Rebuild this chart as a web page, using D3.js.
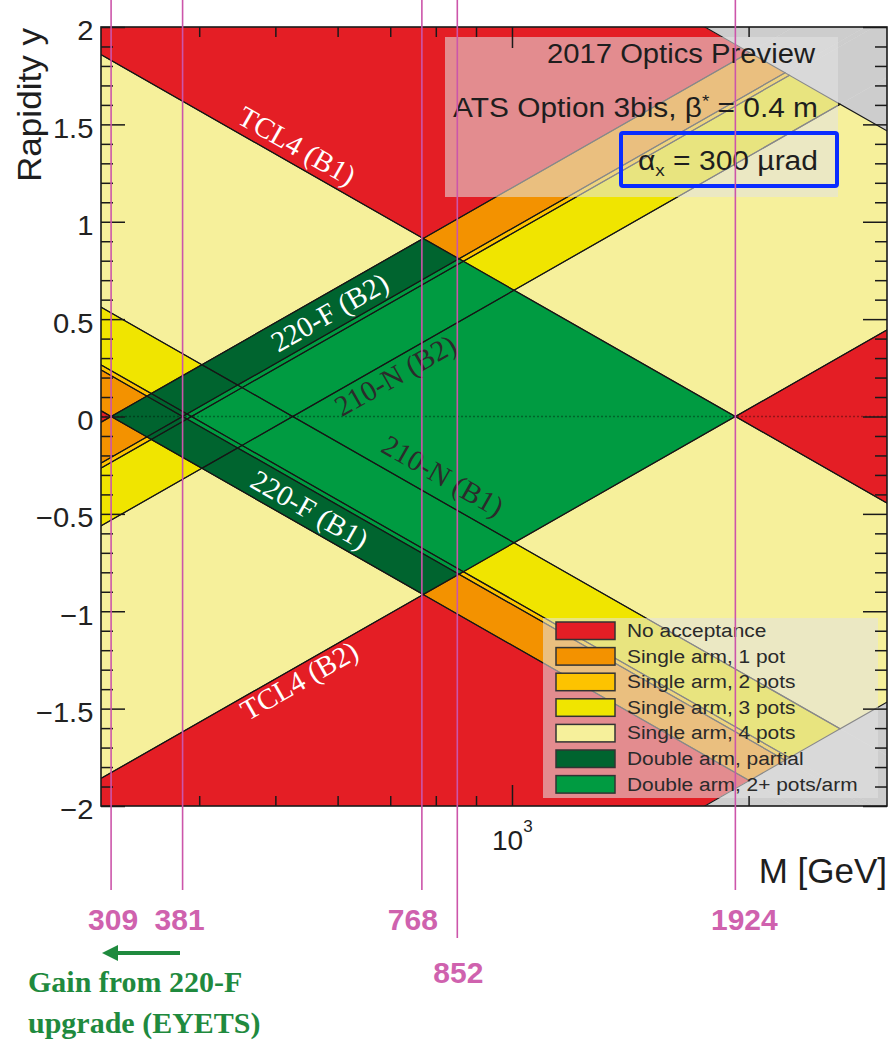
<!DOCTYPE html>
<html>
<head>
<meta charset="utf-8">
<script src="https://cdn.jsdelivr.net/npm/d3@7"></script>
<style>
  html, body { margin: 0; padding: 0; background: #fff; }
  svg { display: block; }
</style>
</head>
<body>
<svg id="chart" width="892" height="1042"></svg>
<script>
// ---- acceptance model: each edge is the mass (GeV) where the line crosses y = 0 ----
const potEdges = [309, 381, 391, 526];      // lower ξ edge of the four pots per arm
const collimatorEdge = 1924;                // TCL4 aperture (upper ξ edge)
const kinematicEdge = 13000;                // ξ = 1
const massMarkers = [309, 381, 768, 852, 1924];

const legendLabels = ["No acceptance", "Single arm, 1 pot", "Single arm, 2 pots",
  "Single arm, 3 pots", "Single arm, 4 pots", "Double arm, partial", "Double arm, 2+ pots/arm"];
const legendColors = ["#e41e25", "#f39200", "#fdc300", "#f0e500", "#f6f09b", "#00642f", "#009b41"];
const outsideColor = "#cdcdcd";

const yMajorTicks = [-2, -1.5, -1, -0.5, 0, 0.5, 1, 1.5, 2];
const yTickLabels = ["\u22122", "\u22121.5", "\u22121", "\u22120.5", "0", "0.5", "1", "1.5", "2"];
const xMinorTicks = [400, 500, 600, 700, 800, 900, 2000];
const xMajorTicks = [1000];

const lineLabels = [
  { text: "TCL4 (B1)",  arm: 1, edges: [1924],     fill: "#ffffff" },
  { text: "TCL4 (B2)",  arm: 2, edges: [1924],     fill: "#ffffff" },
  { text: "220-F (B2)", arm: 2, edges: [309, 381], fill: "#ffffff" },
  { text: "220-F (B1)", arm: 1, edges: [309, 381], fill: "#ffffff" },
  { text: "210-N (B2)", arm: 2, edges: [526],      fill: "#2b2b2b" },
  { text: "210-N (B1)", arm: 1, edges: [526],      fill: "#2b2b2b" }
];

// ---- layout ----
const SANS = "'Liberation Sans', Arial, Helvetica, sans-serif";
const SERIF = "'Liberation Serif', 'Times New Roman', serif";
const labelPlacement = [
  { M: 519, off: 18 }, { M: 526, off: -13 }, { M: 586, off: 0 },
  { M: 553, off: 0 },  { M: 695, off: -15 }, { M: 790, off: 23 }
];
const markerNudge = [2, -3, -9, 1, 9];
const markerBottom = [890, 890, 890, 938, 890];
const markerBaseline = [930, 930, 930, 983, 930];

const svg = d3.select("#chart");
const x = d3.scaleLog().domain([300, 3000]).range([101, 887]);
const y = d3.scaleLinear().domain([-2, 2]).range([806, 27]);
const X0 = 101, X1 = 887, Y0 = 27, Y1 = 806;

svg.append("defs").append("clipPath").attr("id", "plotClip")
  .append("rect").attr("x", X0).attr("y", Y0).attr("width", X1 - X0).attr("height", Y1 - Y0);

// ---- acceptance cells: rectangles in (ln ξ1, ln ξ2) become diamonds in (ln M, y) ----
const bounds = [30, ...potEdges, collimatorEdge, kinematicEdge, 30000];
const potCount = lo => lo >= collimatorEdge ? 0 : potEdges.filter(e => e <= lo).length;
const toPx = (P, Q) => [x(Math.sqrt(P * Q)), y(0.5 * Math.log(P / Q))];

const cells = [];
for (let i = 0; i < bounds.length - 1; i++) {
  for (let j = 0; j < bounds.length - 1; j++) {
    const P0 = bounds[i], P1 = bounds[i + 1], Q0 = bounds[j], Q1 = bounds[j + 1];
    const outside = P0 >= kinematicEdge || Q0 >= kinematicEdge;
    const n1 = potCount(P0), n2 = potCount(Q0);
    let color;
    if (outside) color = outsideColor;
    else if (n1 === 0 && n2 === 0) color = legendColors[0];
    else if (n1 === 0 || n2 === 0) color = legendColors[Math.max(n1, n2)];
    else if (n1 >= 2 && n2 >= 2) color = legendColors[6];
    else color = legendColors[5];
    cells.push({ outside, color, pts: [toPx(P0, Q0), toPx(P1, Q0), toPx(P1, Q1), toPx(P0, Q1)] });
  }
}

const plot = svg.append("g").attr("clip-path", "url(#plotClip)");
const poly = d => "M" + d.pts.map(p => p.join(",")).join("L") + "Z";
plot.selectAll("path.cell").data(cells).join("path").attr("class", "cell")
  .attr("d", poly).attr("fill", d => d.color).attr("stroke", d => d.color).attr("stroke-width", 0.4);
plot.selectAll("path.edge").data(cells.filter(d => !d.outside)).join("path").attr("class", "edge")
  .attr("d", poly).attr("fill", "none").attr("stroke", "#161616").attr("stroke-width", 1.1);

// y = 0 reference
plot.append("line").attr("x1", X0).attr("x2", X1).attr("y1", y(0)).attr("y2", y(0))
  .attr("stroke", "rgba(0,0,0,0.35)").attr("stroke-width", 1.6).attr("stroke-dasharray", "2,2");

// ---- labels along the acceptance edges ----
const kx = x(300 * Math.E) - x(300), ky = y(0) - y(1);
const theta = Math.atan(ky / kx);
lineLabels.forEach((L, i) => {
  const pl = labelPlacement[i];
  const edge = Math.exp(d3.mean(L.edges, e => Math.log(e)));
  const yv = L.arm === 1 ? Math.log(edge / pl.M) : Math.log(pl.M / edge);
  const r = L.arm === 1 ? theta : -theta;
  const cx = x(pl.M) + pl.off * Math.sin(r);
  const cy = y(yv) - pl.off * Math.cos(r);
  plot.append("text")
    .attr("transform", `translate(${cx},${cy}) rotate(${r * 180 / Math.PI})`)
    .attr("text-anchor", "middle").attr("dominant-baseline", "central")
    .attr("font-family", SERIF).attr("font-size", 29).attr("fill", L.fill)
    .text(L.text);
});

// ---- optics info box ----
const info = svg.append("g");
info.append("rect").attr("x", 445).attr("y", 37).attr("width", 393).attr("height", 160)
  .attr("fill", "rgba(226,226,226,0.56)");
const infoText = (xs, yb, len) => info.append("text").attr("x", xs).attr("y", yb)
  .attr("font-family", SANS).attr("font-size", 27).attr("fill", "#1e1e1e")
  .attr("textLength", len).attr("lengthAdjust", "spacingAndGlyphs");
infoText(547, 63, 268).text("2017 Optics Preview");
const t2 = infoText(453, 117, 365);
t2.append("tspan").text("ATS Option 3bis, \u03B2");
t2.append("tspan").attr("font-size", 17).attr("dy", -10).text("*");
t2.append("tspan").attr("dy", 10).text(" = 0.4 m");
const t3 = infoText(638, 170, 180);
t3.append("tspan").text("\u03B1");
t3.append("tspan").attr("font-size", 17).attr("dy", 6).text("x");
t3.append("tspan").attr("dy", -6).text(" = 300 \u00B5rad");
info.append("rect").attr("x", 621).attr("y", 133).attr("width", 216).attr("height", 53)
  .attr("rx", 2).attr("fill", "none").attr("stroke", "#0a2cff").attr("stroke-width", 4);

// ---- legend ----
const leg = svg.append("g");
leg.append("rect").attr("x", 543).attr("y", 618).attr("width", 335).attr("height", 180)
  .attr("fill", "rgba(226,226,226,0.56)");
const rows = leg.selectAll("g.row").data(legendLabels).join("g").attr("class", "row")
  .attr("transform", (d, i) => `translate(0,${622 + i * 25.6})`);
rows.append("rect").attr("x", 556).attr("y", 0).attr("width", 59).attr("height", 17.5)
  .attr("fill", (d, i) => legendColors[i]).attr("stroke", "#333").attr("stroke-width", 1.5);
rows.append("text").attr("transform", "translate(627,15) scale(1.1,1)")
  .attr("font-family", SANS).attr("font-size", 19).attr("fill", "#2a2a2a").text(d => d);

// ---- frame and axes ----
const axisStyle = g => {
  g.select(".domain").remove();
  g.selectAll("line").attr("stroke", "#1a1a1a").attr("stroke-width", 1.5);
};
svg.append("g").attr("transform", `translate(${X0},0)`)
  .call(d3.axisLeft(y).tickValues(d3.range(-19, 20).filter(v => v % 5 !== 0).map(v => v / 10))
    .tickSize(-12).tickFormat("")).call(axisStyle);
const yAx = svg.append("g").attr("transform", `translate(${X0},0)`)
  .call(d3.axisLeft(y).tickValues(yMajorTicks).tickSize(-24).tickPadding(7)
    .tickFormat((d, i) => yTickLabels[i])).call(axisStyle);
yAx.selectAll("text").attr("font-family", SANS).attr("font-size", 27).attr("fill", "#222")
  .attr("dy", "0.48em").attr("transform", "scale(1.08,1)");
svg.append("g").attr("transform", `translate(${X1},0)`)
  .call(d3.axisRight(y).tickValues(d3.range(-19, 20).filter(v => v % 5 !== 0).map(v => v / 10))
    .tickSize(-12).tickFormat("")).call(axisStyle);
svg.append("g").attr("transform", `translate(${X1},0)`)
  .call(d3.axisRight(y).tickValues(yMajorTicks).tickSize(-24).tickFormat("")).call(axisStyle);
[[Y1, d3.axisBottom], [Y0, d3.axisTop]].forEach(([yy, ax]) => {
  svg.append("g").attr("transform", `translate(0,${yy})`)
    .call(ax(x).tickValues(xMinorTicks).tickSize(-10).tickFormat("")).call(axisStyle);
  svg.append("g").attr("transform", `translate(0,${yy})`)
    .call(ax(x).tickValues(xMajorTicks).tickSize(-21).tickFormat("")).call(axisStyle);
});
svg.append("rect").attr("x", X0).attr("y", Y0).attr("width", X1 - X0).attr("height", Y1 - Y0)
  .attr("fill", "none").attr("stroke", "#1a1a1a").attr("stroke-width", 1.6);

// x-axis label at 10^3 and titles
const dec = svg.append("text").attr("x", x(xMajorTicks[0]) - 20).attr("y", 850)
  .attr("font-family", SANS).attr("font-size", 28).attr("fill", "#1e1e1e");
dec.append("tspan").text("10");
dec.append("tspan").attr("font-size", 17).attr("dy", -18).text("3");
svg.append("text").attr("x", 887).attr("y", 883).attr("text-anchor", "end")
  .attr("font-family", SANS).attr("font-size", 35).attr("fill", "#1e1e1e").text("M [GeV]");
svg.append("text").attr("transform", "translate(41,28) rotate(-90)").attr("text-anchor", "end")
  .attr("font-family", SANS).attr("font-size", 34).attr("fill", "#1e1e1e")
  .attr("textLength", 154).attr("lengthAdjust", "spacingAndGlyphs").text("Rapidity y");

// ---- mass markers ----
const mk = svg.append("g");
massMarkers.forEach((m, i) => {
  mk.append("line").attr("x1", x(m)).attr("x2", x(m)).attr("y1", 0).attr("y2", markerBottom[i])
    .attr("stroke", "#cc55aa").attr("stroke-width", 1.6);
  mk.append("text").attr("x", x(m) + markerNudge[i]).attr("y", markerBaseline[i])
    .attr("text-anchor", "middle").attr("font-family", SANS).attr("font-weight", "bold")
    .attr("font-size", 30).attr("fill", "#cf62ae").text(m);
});

// ---- 220-F upgrade note ----
const note = svg.append("g").attr("fill", "#1f8a3e");
note.append("path").attr("d", "M180,951 L118,951 L118,945 L102,953 L118,961 L118,955 L180,955 Z");
note.append("text").attr("x", 28).attr("y", 992).attr("font-family", SERIF)
  .attr("font-weight", "bold").attr("font-size", 30).text("Gain from 220-F");
note.append("text").attr("x", 28).attr("y", 1033).attr("font-family", SERIF)
  .attr("font-weight", "bold").attr("font-size", 30).text("upgrade (EYETS)");
</script>
</body>
</html>
